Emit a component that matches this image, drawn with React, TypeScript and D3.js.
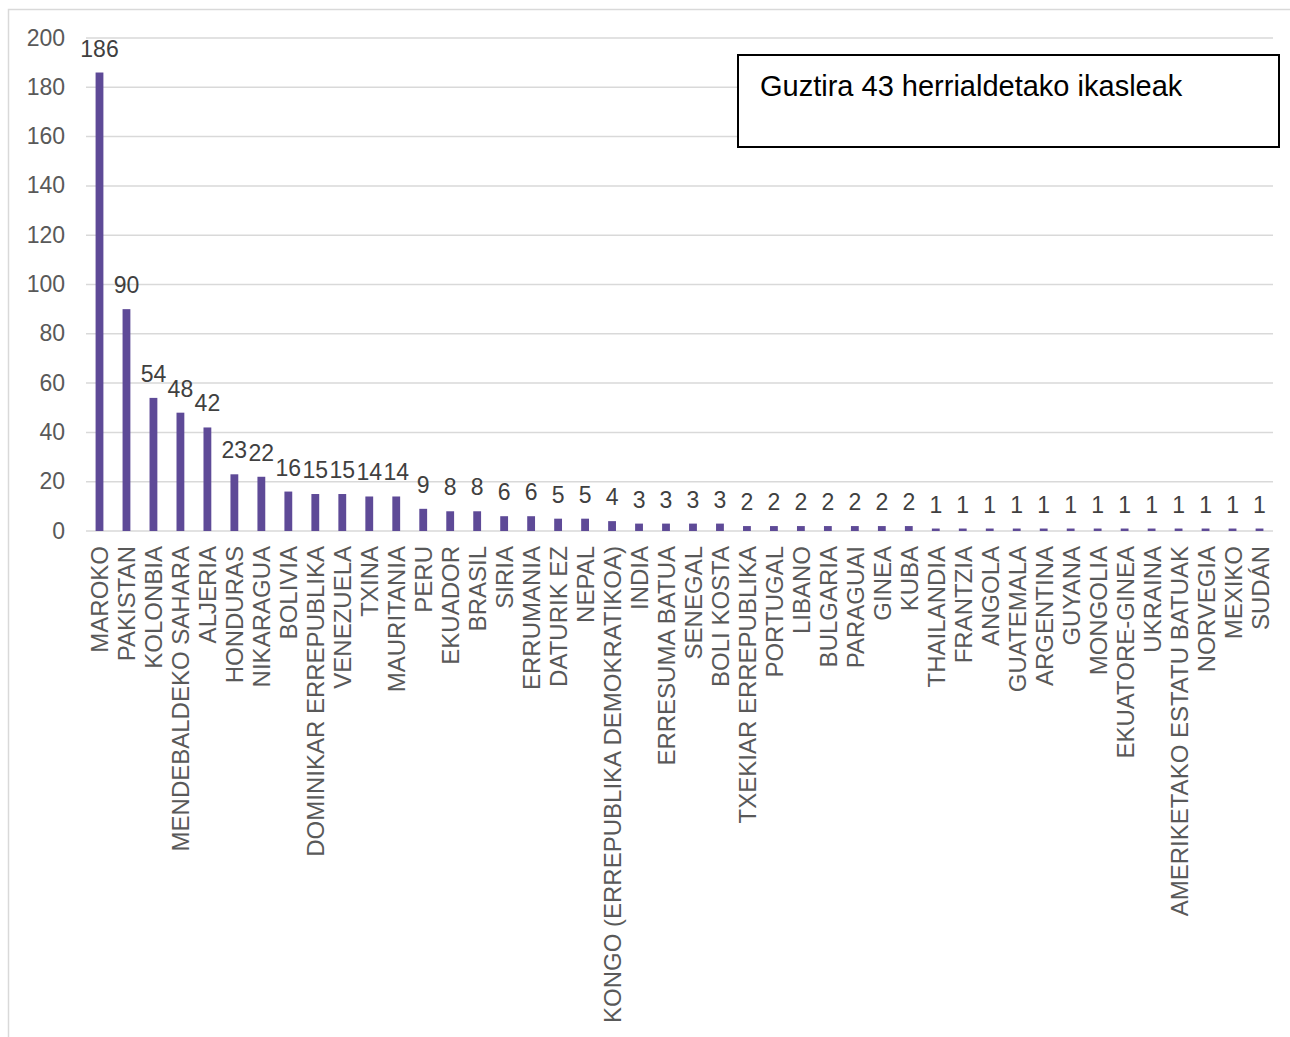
import * as d3 from "d3";
import { useEffect, useRef } from "react";

const countries = [
    "MAROKO", "PAKISTAN", "KOLONBIA", "MENDEBALDEKO SAHARA", "ALJERIA",
    "HONDURAS", "NIKARAGUA", "BOLIVIA", "DOMINIKAR ERREPUBLIKA", "VENEZUELA",
    "TXINA", "MAURITANIA", "PERU", "EKUADOR", "BRASIL", "SIRIA", "ERRUMANIA",
    "DATURIK EZ", "NEPAL", "KONGO (ERREPUBLIKA DEMOKRATIKOA)", "INDIA",
    "ERRESUMA BATUA", "SENEGAL", "BOLI KOSTA", "TXEKIAR ERREPUBLIKA",
    "PORTUGAL", "LIBANO", "BULGARIA", "PARAGUAI", "GINEA", "KUBA",
    "THAILANDIA", "FRANTZIA", "ANGOLA", "GUATEMALA", "ARGENTINA", "GUYANA",
    "MONGOLIA", "EKUATORE-GINEA", "UKRAINA", "AMERIKETAKO ESTATU BATUAK",
    "NORVEGIA", "MEXIKO", "SUDÁN",
];

const students = [
    186, 90, 54, 48, 42, 23, 22, 16, 15, 15, 14, 14, 9, 8, 8, 6, 6, 5, 5, 4,
    3, 3, 3, 3, 2, 2, 2, 2, 2, 2, 2, 1, 1, 1, 1, 1, 1, 1, 1, 1, 1, 1, 1, 1,
];

const yTicks = [0, 20, 40, 60, 80, 100, 120, 140, 160, 180, 200];

const noteText = "Guztira 43 herrialdetako ikasleak";

const App = () => {
    const svgRef = useRef<SVGSVGElement | null>(null);

    const dimensions = { width: 1290, height: 1037 };
    const plot = { left: 86, right: 1273, top: 38, bottom: 531 };
    const font = "'Liberation Sans', Arial, sans-serif";

    useEffect(() => {
        const svg = d3.select(svgRef.current);
        svg.selectAll("*").remove();

        const data = countries.map((name, i) => ({ name, value: students[i] }));

        const xScale = d3
            .scaleBand()
            .domain(countries)
            .range([plot.left, plot.right])
            .paddingInner(0.71)
            .paddingOuter(0.355);

        const yScale = d3
            .scaleLinear()
            .domain([0, 200])
            .range([plot.bottom, plot.top]);

        // outer chart frame
        svg.append("rect")
            .attr("x", 8.5)
            .attr("y", 9.5)
            .attr("width", dimensions.width)
            .attr("height", dimensions.height)
            .attr("fill", "none")
            .attr("stroke", "#d9d9d9")
            .attr("stroke-width", 1.5);

        // gridlines
        svg.append("g")
            .selectAll("line")
            .data(yTicks)
            .join("line")
            .attr("x1", plot.left)
            .attr("x2", plot.right)
            .attr("y1", (d) => yScale(d))
            .attr("y2", (d) => yScale(d))
            .attr("stroke", "#d9d9d9")
            .attr("stroke-width", 1.5);

        // y axis labels
        svg.append("g")
            .selectAll("text")
            .data(yTicks)
            .join("text")
            .attr("x", 65)
            .attr("y", (d) => yScale(d))
            .attr("dy", "0.33em")
            .attr("text-anchor", "end")
            .attr("font-family", font)
            .attr("font-size", 23)
            .attr("fill", "#595959")
            .text((d) => d);

        // bars
        svg.append("g")
            .selectAll("rect")
            .data(data)
            .join("rect")
            .attr("x", (d) => xScale(d.name) as number)
            .attr("y", (d) => yScale(d.value))
            .attr("width", xScale.bandwidth())
            .attr("height", (d) => yScale(0) - yScale(d.value))
            .attr("fill", "#5e4a97");

        // value labels
        svg.append("g")
            .selectAll("text")
            .data(data)
            .join("text")
            .attr("x", (d) => (xScale(d.name) as number) + xScale.bandwidth() / 2)
            .attr("y", (d) => yScale(d.value) - 16)
            .attr("text-anchor", "middle")
            .attr("font-family", font)
            .attr("font-size", 23)
            .attr("fill", "#404040")
            .text((d) => d.value);

        // category labels
        svg.append("g")
            .selectAll("text")
            .data(data)
            .join("text")
            .attr("transform", (d) => {
                const cx = (xScale(d.name) as number) + xScale.bandwidth() / 2 + 9;
                return `translate(${cx}, ${plot.bottom + 15}) rotate(-90)`;
            })
            .attr("text-anchor", "end")
            .attr("font-family", font)
            .attr("font-size", 24)
            .attr("fill", "#595959")
            .text((d) => d.name);

        // note box
        svg.append("rect")
            .attr("x", 738)
            .attr("y", 55)
            .attr("width", 541)
            .attr("height", 92)
            .attr("fill", "white")
            .attr("stroke", "black")
            .attr("stroke-width", 2);

        svg.append("text")
            .attr("x", 760)
            .attr("y", 96)
            .attr("font-family", font)
            .attr("font-size", 29)
            .attr("fill", "black")
            .text(noteText);
    }, []);

    return (
        <svg
            ref={svgRef}
            width={dimensions.width}
            height={dimensions.height}
            style={{ position: "absolute", left: 0, top: 0 }}
        />
    );
};

export default App;
